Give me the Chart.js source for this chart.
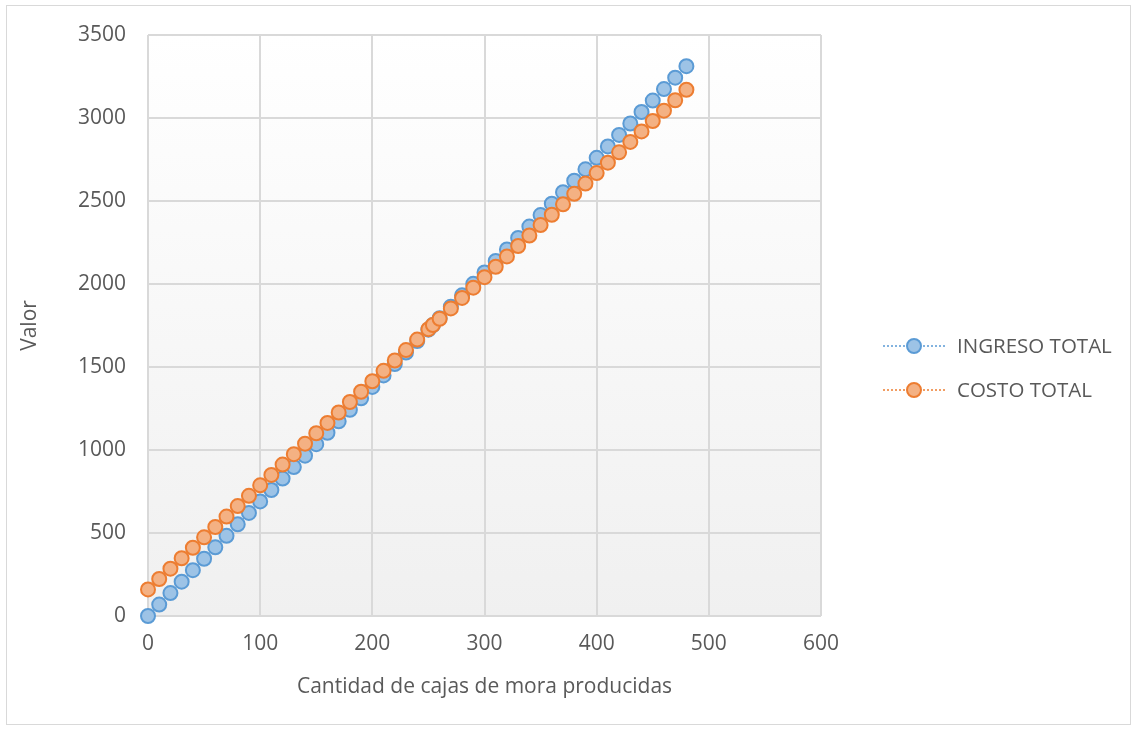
<!DOCTYPE html>
<html>
<head>
<meta charset="utf-8">
<script src="https://cdn.jsdelivr.net/npm/chart.js@4.4.1/dist/chart.umd.min.js"></script>
<style>
  html, body { margin: 0; padding: 0; background: #fff; }
  #wrap { width: 1137px; height: 729px; position: relative; }
</style>
</head>
<body>
<div id="wrap"><canvas id="chart" width="1137" height="729"></canvas></div>
<script>
// Cajas producidas (eje X) – incluye el punto de equilibrio ~254
const cajas = [0, 10, 20, 30, 40, 50, 60, 70, 80, 90, 100, 110, 120, 130, 140, 150,
    160, 170, 180, 190, 200, 210, 220, 230, 240, 250, 254, 260, 270, 280, 290, 300,
    310, 320, 330, 340, 350, 360, 370, 380, 390, 400, 410, 420, 430, 440, 450, 460,
    470, 480];

const ingresoTotal = [0, 69, 138, 207, 276, 345, 414, 483, 552, 621, 690, 759, 828, 897,
    966, 1035, 1104, 1173, 1242, 1311, 1380, 1449, 1518, 1587, 1656, 1725, 1753, 1794,
    1863, 1932, 2001, 2070, 2139, 2208, 2277, 2346, 2415, 2484, 2553, 2622, 2691, 2760,
    2829, 2898, 2967, 3036, 3105, 3174, 3243, 3312];

const costoTotal = [160, 223, 285, 348, 411, 474, 536, 599, 662, 724, 787, 850, 912, 975,
    1038, 1101, 1163, 1226, 1289, 1351, 1414, 1477, 1539, 1602, 1665, 1728, 1753, 1790,
    1853, 1916, 1978, 2041, 2104, 2166, 2229, 2292, 2355, 2417, 2480, 2543, 2605, 2668,
    2731, 2793, 2856, 2919, 2982, 3044, 3107, 3170];

const xTitle = 'Cantidad de cajas de mora producidas';
const yTitle = 'Valor';

const TEXT = '#595959';
const FONT = '"Open Sans", "Liberation Sans", sans-serif';
const GRID = '#d9d9d9';

const series = [
    { label: 'INGRESO TOTAL', values: ingresoTotal, fill: '#9dc3e6', stroke: '#5b9bd5' },
    { label: 'COSTO TOTAL', values: costoTotal, fill: '#f4b183', stroke: '#ed7d31' },
];

// the later series sits on top, as in Excel
const datasets = series.map((s, i) => ({
    label: s.label,
    data: cajas.map((x, j) => ({ x, y: s.values[j] })),
    order: series.length - i,
    showLine: true,
    borderColor: s.stroke,
    borderWidth: 1,
    borderDash: [2, 2],
    pointRadius: 7,
    pointBorderWidth: 2,
    pointBackgroundColor: s.fill,
    pointBorderColor: s.stroke,
    clip: false,
}));

// plot-area gradient, outer frame and the Excel-style legend
const decor = {
    id: 'decor',
    beforeDraw(chart) {
        const { ctx, chartArea: a } = chart;
        ctx.save();
        ctx.fillStyle = '#fff';
        ctx.fillRect(0, 0, chart.width, chart.height);
        const g = ctx.createLinearGradient(0, a.top, 0, a.bottom);
        g.addColorStop(0, '#ffffff');
        g.addColorStop(1, '#f0f0f0');
        ctx.fillStyle = g;
        ctx.fillRect(a.left, a.top, a.right - a.left, a.bottom - a.top);
        ctx.strokeStyle = '#d9d9d9';
        ctx.lineWidth = 1;
        ctx.strokeRect(6.5, 5.5, chart.width - 13, chart.height - 10);
        ctx.restore();
    },
    afterDraw(chart) {
        const { ctx } = chart;
        ctx.save();
        series.forEach((s, i) => {
            const y = 346 + i * 44;
            ctx.strokeStyle = s.stroke;
            ctx.lineWidth = 1.5;
            ctx.setLineDash([2, 2]);
            ctx.beginPath();
            ctx.moveTo(883, y);
            ctx.lineTo(945, y);
            ctx.stroke();
            ctx.setLineDash([]);
            ctx.beginPath();
            ctx.arc(914, y, 7, 0, Math.PI * 2);
            ctx.fillStyle = s.fill;
            ctx.fill();
            ctx.lineWidth = 2;
            ctx.strokeStyle = s.stroke;
            ctx.stroke();
            ctx.fillStyle = TEXT;
            ctx.font = '20.5px ' + FONT;
            ctx.textBaseline = 'middle';
            ctx.fillText(s.label, 957, y + 1);
        });
        ctx.restore();
    },
};

const tickFont = { family: FONT, size: 21 };

new Chart(document.getElementById('chart'), {
    type: 'scatter',
    data: { datasets },
    plugins: [decor],
    options: {
        responsive: false,
        animation: false,
        layout: { padding: { left: 0, top: 35, right: 316, bottom: 0 } },
        plugins: { legend: { display: false }, tooltip: { enabled: false } },
        scales: {
            x: {
                type: 'linear',
                min: 0, max: 600,
                ticks: { stepSize: 100, color: TEXT, padding: 15, font: tickFont,
                         callback: v => String(v) },
                grid: { color: GRID, lineWidth: 2, drawTicks: false },
                border: { display: false },
                title: { display: true, text: xTitle, color: TEXT,
                         font: tickFont, padding: { top: 4, bottom: 29 } },
                afterFit(scale) { scale.height = 113; },
            },
            y: {
                type: 'linear',
                min: 0, max: 3500,
                ticks: { stepSize: 500, color: TEXT, padding: 22, font: tickFont,
                         callback: v => String(v) },
                grid: { color: GRID, lineWidth: 2, drawTicks: false },
                border: { display: false },
                title: { display: true, text: yTitle, color: TEXT,
                         font: tickFont, padding: { top: 17, bottom: 0 } },
                afterFit(scale) { scale.width = 148; },
            },
        },
    },
});
</script>
</body>
</html>
